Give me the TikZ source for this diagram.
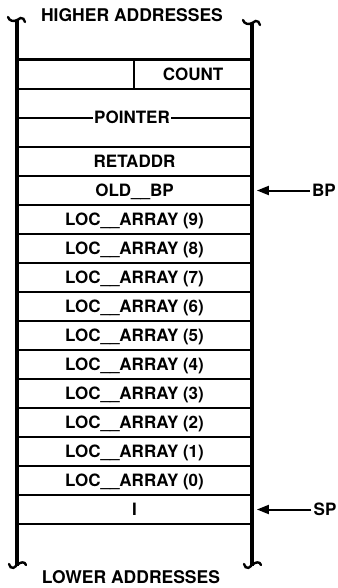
\documentclass[tikz,border=0pt]{standalone}
\usepackage{fontspec}
\setmainfont{TeX Gyre Heros}
\usetikzlibrary{arrows.meta}
\begin{document}
\begin{tikzpicture}[x=1pt,y=-1pt,
  every node/.style={font=\fontsize{17}{19}\selectfont\bfseries, inner sep=0pt, text height=12pt, text depth=0pt},
  heading/.style={font=\fontsize{17.5}{19}\selectfont\bfseries},
  wall/.style={line width=3.4pt},
  curl/.style={line width=2.4pt, line cap=round},
  row/.style={draw, line width=1.8pt, minimum width=235pt, minimum height=29pt},
  ptr/.style={-{Triangle[length=12pt,width=9pt]}, line width=2pt}]
\useasboundingbox (0,0) rectangle (337,588);
% headings
\node[heading] (hi) at (132,15.5) {HIGHER ADDRESSES};
\node[heading] (lo) at (131,577) {LOWER ADDRESSES};
% rows
\node[row] (cnt) at (134.5,74.5) {};
\node[row, minimum height=58pt] (ptrrow) at (134.5,118) {};
\node[row] (ret) at (134.5,161.5) {RETADDR};
\node[row] (oldbp) at (134.5,190.5) {OLD\_\_BP};
\foreach \i/\k in {9/0,8/1,7/2,6/3,5/4,4/5,3/6,2/7,1/8,0/9}{
  \node[row] (loc\i) at (134.5,219.5+29*\k) {LOC\_\_ARRAY (\i)};
}
\node[row] (ivar) at (134.5,509.5) {I};
% count row split
\coordinate (cm) at (134,60);
\coordinate (cb) at (134,89);
\draw[line width=2pt] (cm) -- (cb);
\node (count) at (193,74.5) {COUNT};
% pointer line
\draw[line width=1.8pt] (ptrrow.west) -- (ptrrow.east);
\node[fill=white, inner xsep=1pt] (pointer) at (132,118) {POINTER};
% top line
\draw[line width=3pt] (cnt.north west) -- (cnt.north east);
% walls
\coordinate (lt) at (17,21);
\coordinate (lb) at (17,566);
\coordinate (rt) at (252,24);
\coordinate (rb) at (252,566);
\draw[wall] (lt) -- (lb);
\draw[wall] (rt) -- (rb);
% curls
\draw[curl] (17,23) .. controls (17,17) and (24,16) .. (25,22);
\draw[curl] (8,17) .. controls (9,21) and (14,22) .. (17,20);
\draw[curl] (252,26) .. controls (252,20) and (259,19) .. (260,25);
\draw[curl] (243,20) .. controls (244,24) and (249,25) .. (252,23);
\draw[curl] (17,562) .. controls (17,569) and (10,570) .. (9,564);
\draw[curl] (26,565) .. controls (25,561) and (20,562) .. (17,565);
\draw[curl] (252,562) .. controls (252,569) and (245,570) .. (244,564);
\draw[curl] (261,565) .. controls (260,561) and (255,562) .. (252,565);
% pointers
\node (bp) at (324,190.5) {BP};
\node (sp) at (325,509.5) {SP};
\draw[ptr] ([xshift=-2pt]bp.west) -- ([xshift=4pt]oldbp.east);
\draw[ptr] ([xshift=-2pt]sp.west) -- ([xshift=4pt]ivar.east);
\end{tikzpicture}
\end{document}
